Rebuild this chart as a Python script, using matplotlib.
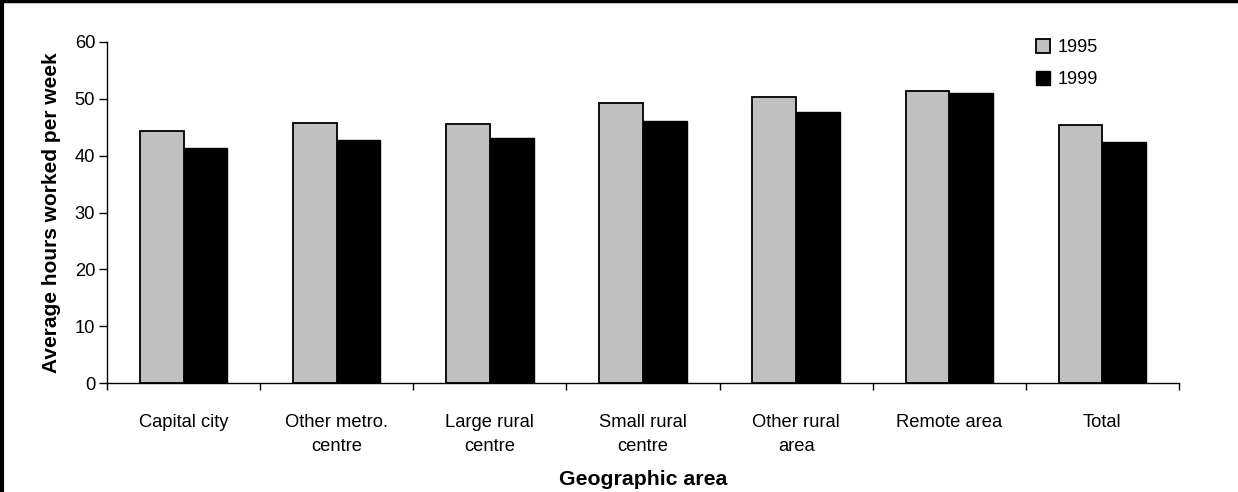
import matplotlib
matplotlib.use("Agg")
import matplotlib.pyplot as plt
from matplotlib.lines import Line2D
import numpy as np

plt.rcParams['font.family'] = ['Liberation Sans', 'DejaVu Sans']

categories = ["Capital city", "Other metro.\ncentre", "Large rural\ncentre",
              "Small rural\ncentre", "Other rural\narea", "Remote area", "Total"]
hours_1995 = [44.3, 45.8, 45.5, 49.2, 50.3, 51.3, 45.4]
hours_1999 = [41.3, 42.8, 43.1, 46.1, 47.7, 51.0, 42.4]
series_labels = ["1995", "1999"]
yticks = [0, 10, 20, 30, 40, 50, 60]

W, H = 1238, 492
fig = plt.figure(figsize=(W / 100, H / 100), dpi=100)
ax = fig.add_axes([107 / W, 1 - 383.3 / H, (1179 - 107) / W, (383.3 - 41.7) / H])

x = np.arange(len(categories))
bw = 0.285
ax.bar(x - bw / 2, hours_1995, width=bw, color="#c0c0c0", edgecolor="black",
       linewidth=1.3, label=series_labels[0], zorder=2)
ax.bar(x + bw / 2, hours_1999, width=bw, color="black", edgecolor="black",
       linewidth=1.0, label=series_labels[1], zorder=2)

ax.set_xlim(-0.5, len(categories) - 0.5)
ax.set_ylim(0, 60)
ax.set_yticks(yticks)
ax.tick_params(axis='y', direction='out', length=6, width=1, labelsize=13.2, pad=2.5)

# category labels at centres, tick marks at group boundaries
ax.set_xticks(x)
ax.set_xticklabels(categories, fontsize=13.2, linespacing=1.55, va='top')
ax.set_xticks(np.arange(len(categories) + 1) - 0.5, minor=True)
ax.tick_params(axis='x', which='major', length=0, pad=22)
ax.tick_params(axis='x', which='minor', direction='out', length=5, width=1)

for s in ['top', 'right']:
    ax.spines[s].set_visible(False)
for s in ['left', 'bottom']:
    ax.spines[s].set_linewidth(1.0)

ax.set_ylabel("Average hours worked per week", fontsize=15, fontweight='bold', labelpad=10)
ax.set_xlabel("Geographic area", fontsize=15.3, fontweight='bold', labelpad=11)

ax.legend(frameon=False, loc='upper left', bbox_to_anchor=(1036 / W, 1 - 39 / H),
          bbox_transform=fig.transFigure, fontsize=13, handlelength=0.78,
          handleheight=0.78, handletextpad=0.4, labelspacing=0.85, borderpad=0,
          borderaxespad=0)

# figure frame along the top and left edges
fig.add_artist(Line2D([0, 1], [1 - 1 / H, 1 - 1 / H], transform=fig.transFigure,
                      color='black', linewidth=2.5))
fig.add_artist(Line2D([1.5 / W, 1.5 / W], [0, 1], transform=fig.transFigure,
                      color='black', linewidth=3))

fig.savefig("out.png", dpi=100)
